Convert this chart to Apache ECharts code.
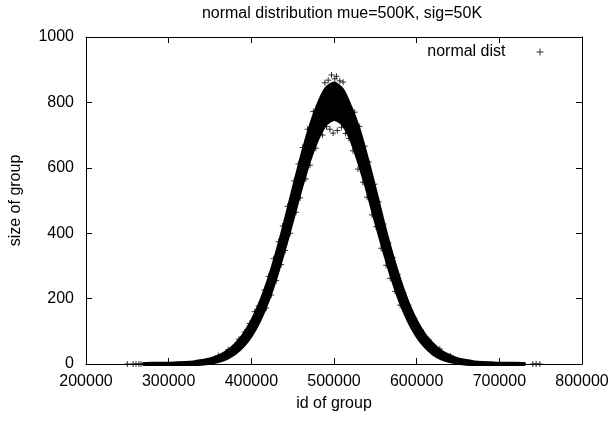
<!DOCTYPE html>
<html><head><meta charset="utf-8">
<script src="https://cdn.jsdelivr.net/npm/echarts@6/dist/echarts.min.js"></script>
<style>html,body{margin:0;padding:0;background:#fff}#c{width:615px;height:421px}</style>
</head><body><div id="c"></div>
<script>
// ---- data ----
const titleText = 'normal distribution mue=500K, sig=50K';
const seriesName = 'normal dist';
const xAxisName = 'id of group';
const yAxisName = 'size of group';
const xTickValues = [200000, 300000, 400000, 500000, 600000, 700000, 800000];
const yTickValues = [0, 200, 400, 600, 800, 1000];

// dense band of points: x positions, lower and upper edge of the dense core
const bandX = [270000, 280000, 290000, 300000, 310000, 320000, 330000, 340000, 350000, 360000,
  370000, 380000, 390000, 400000, 410000, 420000, 430000, 440000, 450000, 460000,
  470000, 480000, 490000, 500000, 510000, 520000, 530000, 540000, 550000, 560000,
  570000, 580000, 590000, 600000, 610000, 620000, 630000, 640000, 650000, 660000,
  670000, 680000, 690000, 700000, 710000, 720000, 730000];
const bandLower = [0, 0, 0, 0, 0, 0, 0, 1, 4, 9, 18, 33, 56, 89, 135, 195, 269, 354, 445, 538, 622, 689, 734,
  749,
  736, 692, 620, 536, 442, 352, 267, 193, 134, 88, 55, 32, 17, 9, 4, 1, 0, 0, 0, 0, 0, 0, 0];
const bandUpper = [0, 1, 1, 1, 2, 3, 5, 9, 14, 23, 36, 57, 86, 127, 181, 249, 331, 424, 525, 624, 714, 787, 840,
  858,
  838, 784, 716, 626, 528, 426, 333, 251, 182, 128, 87, 58, 37, 24, 14, 9, 5, 3, 2, 1, 1, 1, 0];

// scattered individual points outside the dense core
const outlierX = [497000, 503000, 501000, 493000, 507000, 489000, 511000,
  499000, 504000, 495000, 509000, 491000, 486000, 514000,
  475000, 468000, 462000, 457000, 452000, 444000, 438000, 433000, 427000, 421000, 416000, 409000, 404000, 398000, 392000,
  478000, 471000, 466000, 459000, 454000, 447000, 441000, 436000, 430000, 424000, 418000,
  525000, 531000, 537000, 542000, 549000, 554000, 560000, 566000, 571000, 577000, 584000, 590000, 597000, 605000,
  518000, 523000, 529000, 535000, 540000, 546000, 551000, 557000, 563000, 568000, 574000, 580000,
  372000, 628000, 360000, 641000, 385000, 615000,
  250000, 257000, 260500, 264000, 266500, 740500, 744500, 749000];
const outlierY = [884, 880, 872, 868, 866, 860, 862,
  706, 714, 718, 724, 726, 700, 705,
  772, 718, 662, 612, 560, 482, 422, 374, 322, 268, 226, 178, 160, 124, 98,
  660, 608, 566, 508, 464, 400, 347, 304, 255, 211, 171,
  770, 726, 666, 618, 550, 496, 428, 370, 326, 274, 218, 180, 140, 104,
  690, 652, 596, 556, 510, 456, 420, 354, 302, 262, 222, 180,
  44, 46, 26, 24, 76, 74,
  0, 0, 0, 0, 0, 0, 0, 0];

// ---- chart ----
const FONT = 'Liberation Sans, Arial, sans-serif';
const plus = 'path://M3,0V6M0,3H6';
const black = '#000';

const bandData = bandX.map((x, i) => [x, bandLower[i], bandUpper[i]]);
const outlierData = outlierX.map((x, i) => [x, outlierY[i]]);

function xAx(pos, showLabel) {
  return {
    type: 'value', position: pos,
    min: xTickValues[0], max: xTickValues[xTickValues.length - 1],
    interval: xTickValues[1] - xTickValues[0],
    axisLine: { show: true, onZero: false, lineStyle: { color: black, width: 1 } },
    axisTick: { show: true, inside: true, length: 6, lineStyle: { color: black } },
    axisLabel: { show: showLabel, color: black, fontSize: 16, fontFamily: FONT, margin: 10,
      formatter: v => String(v) },
    splitLine: { show: false },
    name: showLabel ? xAxisName : '', nameLocation: 'middle', nameGap: 32,
    nameTextStyle: { color: black, fontSize: 16, fontFamily: FONT }
  };
}
function yAx(pos, showLabel) {
  return {
    type: 'value', position: pos,
    min: yTickValues[0], max: yTickValues[yTickValues.length - 1],
    interval: yTickValues[1] - yTickValues[0],
    axisLine: { show: true, onZero: false, lineStyle: { color: black, width: 1 } },
    axisTick: { show: true, inside: true, length: 6, lineStyle: { color: black } },
    axisLabel: { show: showLabel, color: black, fontSize: 16, fontFamily: FONT, margin: 12,
      formatter: v => String(v) },
    splitLine: { show: false },
    name: showLabel ? yAxisName : '', nameLocation: 'middle', nameGap: 62, nameRotate: 90,
    nameTextStyle: { color: black, fontSize: 16, fontFamily: FONT }
  };
}

function renderBand(params, api) {
  if (params.dataIndex !== 0) return null;
  const top = [], bottom = [];
  for (let i = 0; i < bandData.length; i++) {
    top.push(api.coord([bandData[i][0], bandData[i][2]]));
    bottom.push(api.coord([bandData[i][0], bandData[i][1]]));
  }
  const pts = top.concat(bottom.reverse());
  return {
    type: 'polygon',
    shape: { points: pts, smooth: 0.25 },
    style: { fill: black, stroke: black, lineWidth: 4, lineJoin: 'round' },
    silent: true
  };
}

const chart = echarts.init(document.getElementById('c'), null, { renderer: 'canvas' });
chart.setOption({
  animation: false,
  backgroundColor: '#fff',
  title: {
    text: titleText, left: 337, top: 1, textAlign: 'center',
    textStyle: { color: black, fontSize: 16, fontWeight: 'normal', fontFamily: FONT }
  },
  legend: {
    right: 66, top: 39, align: 'right', itemWidth: 7, itemHeight: 7,
    data: [{ name: seriesName, icon: plus, itemStyle: { color: black, borderColor: black, borderWidth: 1 } }],
    textStyle: { color: black, fontSize: 16, fontFamily: FONT, padding: [0, 26, 0, 0] }
  },
  grid: { left: 86, right: 33, top: 37, bottom: 57, containLabel: false },
  xAxis: [xAx('bottom', true), xAx('top', false)],
  yAxis: [yAx('left', true), yAx('right', false)],
  series: [
    {
      name: 'band', type: 'custom', data: bandData, renderItem: renderBand,
      encode: { x: 0, y: [1, 2] },
      xAxisIndex: 0, yAxisIndex: 0, clip: false, silent: true, z: 3
    },
    {
      name: seriesName, type: 'scatter', data: outlierData,
      xAxisIndex: 0, yAxisIndex: 0, symbol: plus, symbolSize: 6, clip: false,
      itemStyle: { color: black, borderColor: black, borderWidth: 1 }, z: 4
    }
  ]
});
</script>
</body></html>
